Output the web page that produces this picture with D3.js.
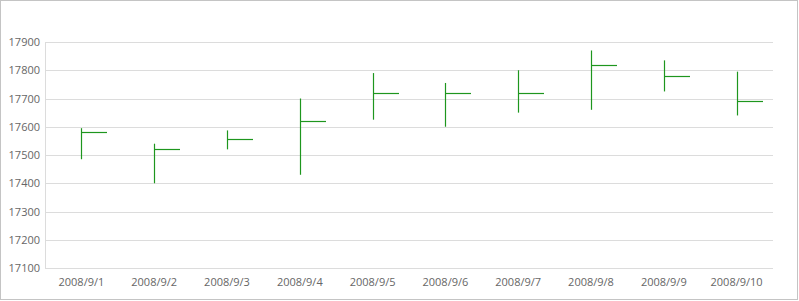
<!DOCTYPE html>
<html>
<head>
<meta charset="utf-8">
<script src="https://cdn.jsdelivr.net/npm/d3@7"></script>
<style>
  body { margin: 0; background: #fff; }
  svg { display: block; font-family: "Open Sans", sans-serif; }
</style>
</head>
<body>
<script>
var dates = ['2008/9/1', '2008/9/2', '2008/9/3', '2008/9/4', '2008/9/5',
             '2008/9/6', '2008/9/7', '2008/9/8', '2008/9/9', '2008/9/10'];
var highs  = [17595, 17540, 17587, 17700, 17790, 17755, 17800, 17870, 17835, 17795];
var lows   = [17485, 17400, 17520, 17430, 17625, 17600, 17650, 17660, 17725, 17640];
var closes = [17580, 17520, 17555, 17620, 17720, 17720, 17720, 17820, 17780, 17690];
var yTicks = [17100, 17200, 17300, 17400, 17500, 17600, 17700, 17800, 17900];

var w = 799;
var h = 301;
var margin = { top: 42, right: 26, bottom: 33, left: 45 };

var svg = d3.select('body')
  .append('svg')
  .attr('width', w)
  .attr('height', h);

svg.append('rect')
  .attr('x', 0.5)
  .attr('y', 0.5)
  .attr('width', w - 2)
  .attr('height', h - 2)
  .attr('fill', '#fff')
  .attr('stroke', '#c4c4c4');

var x = d3.scaleBand()
  .domain(dates)
  .range([margin.left, w - margin.right]);

var y = d3.scaleLinear()
  .domain([17100, 17900])
  .range([h - margin.bottom, margin.top]);

// grid
svg.append('g')
  .selectAll('line')
  .data(yTicks)
  .enter()
  .append('line')
  .attr('x1', margin.left)
  .attr('x2', w - margin.right)
  .attr('y1', function (d) { return Math.round(y(d)) + 0.5; })
  .attr('y2', function (d) { return Math.round(y(d)) + 0.5; })
  .attr('stroke', '#dcdcdc');

svg.append('line')
  .attr('x1', margin.left + 0.5)
  .attr('x2', margin.left + 0.5)
  .attr('y1', margin.top)
  .attr('y2', h - margin.bottom)
  .attr('stroke', '#dcdcdc');

// y labels
svg.append('g')
  .selectAll('text')
  .data(yTicks)
  .enter()
  .append('text')
  .attr('x', margin.left - 5)
  .attr('y', function (d) { return Math.round(y(d)) + 4; })
  .attr('text-anchor', 'end')
  .attr('font-size', 11)
  .attr('fill', '#666')
  .text(function (d) { return d; });

// x labels
svg.append('g')
  .selectAll('text')
  .data(dates)
  .enter()
  .append('text')
  .attr('x', function (d) { return x(d) + x.bandwidth() / 2; })
  .attr('y', h - 15)
  .attr('text-anchor', 'middle')
  .attr('font-size', 11)
  .attr('fill', '#666')
  .text(function (d) { return d; });

// hlc bars
var tick = x.bandwidth() * 0.35;
var bars = svg.append('g')
  .selectAll('g')
  .data(dates)
  .enter()
  .append('g')
  .attr('stroke', '#1e961e')
  .attr('stroke-width', 1.2);

bars.append('line')
  .attr('x1', function (d) { return Math.round(x(d) + x.bandwidth() / 2) + 0.5; })
  .attr('x2', function (d) { return Math.round(x(d) + x.bandwidth() / 2) + 0.5; })
  .attr('y1', function (d, i) { return y(highs[i]); })
  .attr('y2', function (d, i) { return y(lows[i]); });

bars.append('line')
  .attr('x1', function (d) { return Math.round(x(d) + x.bandwidth() / 2) + 0.5; })
  .attr('x2', function (d) { return Math.round(x(d) + x.bandwidth() / 2) + 0.5 + tick; })
  .attr('y1', function (d, i) { return Math.round(y(closes[i])) + 0.5; })
  .attr('y2', function (d, i) { return Math.round(y(closes[i])) + 0.5; });
</script>
</body>
</html>
